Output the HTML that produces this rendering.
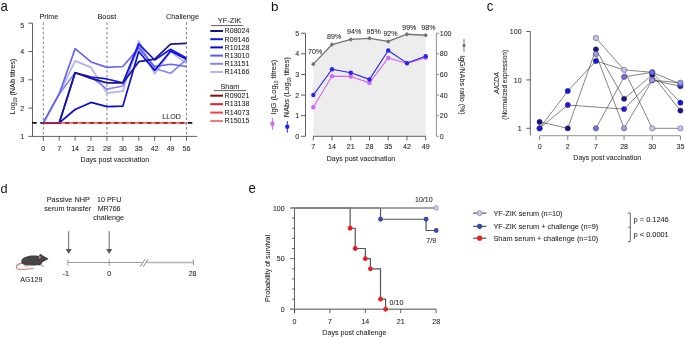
<!DOCTYPE html>
<html><head><meta charset="utf-8"><style>
html,body{margin:0;padding:0;background:#fff;}
svg{display:block;font-family:"Liberation Sans",sans-serif;will-change:transform;}
text{stroke:#333;stroke-width:0.06px;paint-order:stroke;}
</style></head><body>
<svg width="685" height="338" viewBox="0 0 685 338">
<rect width="685" height="338" fill="#fff"/>
<text transform="translate(0.50,10.80) scale(0.93,1)" font-size="14.2" fill="#111" style="stroke:none">a</text>
<line x1="32.50" y1="23.20" x2="32.50" y2="136.40" stroke="#3a3a3a" stroke-width="0.8" />
<line x1="32.10" y1="136.40" x2="197.30" y2="136.40" stroke="#3a3a3a" stroke-width="0.8" />
<line x1="28.40" y1="136.40" x2="32.50" y2="136.40" stroke="#3a3a3a" stroke-width="0.8" />
<text transform="translate(24.30,139.00) scale(0.93,1)" font-size="7.634" text-anchor="end" fill="#222" >1</text>
<line x1="28.40" y1="108.10" x2="32.50" y2="108.10" stroke="#3a3a3a" stroke-width="0.8" />
<text transform="translate(24.30,110.70) scale(0.93,1)" font-size="7.634" text-anchor="end" fill="#222" >2</text>
<line x1="28.40" y1="79.80" x2="32.50" y2="79.80" stroke="#3a3a3a" stroke-width="0.8" />
<text transform="translate(24.30,82.40) scale(0.93,1)" font-size="7.634" text-anchor="end" fill="#222" >3</text>
<line x1="28.40" y1="51.50" x2="32.50" y2="51.50" stroke="#3a3a3a" stroke-width="0.8" />
<text transform="translate(24.30,54.10) scale(0.93,1)" font-size="7.634" text-anchor="end" fill="#222" >4</text>
<line x1="28.40" y1="23.20" x2="32.50" y2="23.20" stroke="#3a3a3a" stroke-width="0.8" />
<text transform="translate(24.30,28.10) scale(0.93,1)" font-size="7.634" text-anchor="end" fill="#222" >5</text>
<line x1="43.30" y1="136.40" x2="43.30" y2="140.80" stroke="#3a3a3a" stroke-width="0.8" />
<text transform="translate(43.30,151.30) scale(0.93,1)" font-size="7.634" text-anchor="middle" fill="#222" >0</text>
<line x1="59.21" y1="136.40" x2="59.21" y2="140.80" stroke="#3a3a3a" stroke-width="0.8" />
<text transform="translate(59.21,151.30) scale(0.93,1)" font-size="7.634" text-anchor="middle" fill="#222" >7</text>
<line x1="75.12" y1="136.40" x2="75.12" y2="140.80" stroke="#3a3a3a" stroke-width="0.8" />
<text transform="translate(75.12,151.30) scale(0.93,1)" font-size="7.634" text-anchor="middle" fill="#222" >14</text>
<line x1="91.03" y1="136.40" x2="91.03" y2="140.80" stroke="#3a3a3a" stroke-width="0.8" />
<text transform="translate(91.03,151.30) scale(0.93,1)" font-size="7.634" text-anchor="middle" fill="#222" >21</text>
<line x1="106.94" y1="136.40" x2="106.94" y2="140.80" stroke="#3a3a3a" stroke-width="0.8" />
<text transform="translate(106.94,151.30) scale(0.93,1)" font-size="7.634" text-anchor="middle" fill="#222" >28</text>
<line x1="122.85" y1="136.40" x2="122.85" y2="140.80" stroke="#3a3a3a" stroke-width="0.8" />
<text transform="translate(122.85,151.30) scale(0.93,1)" font-size="7.634" text-anchor="middle" fill="#222" >30</text>
<line x1="138.76" y1="136.40" x2="138.76" y2="140.80" stroke="#3a3a3a" stroke-width="0.8" />
<text transform="translate(138.76,151.30) scale(0.93,1)" font-size="7.634" text-anchor="middle" fill="#222" >35</text>
<line x1="154.67" y1="136.40" x2="154.67" y2="140.80" stroke="#3a3a3a" stroke-width="0.8" />
<text transform="translate(154.67,151.30) scale(0.93,1)" font-size="7.634" text-anchor="middle" fill="#222" >42</text>
<line x1="170.58" y1="136.40" x2="170.58" y2="140.80" stroke="#3a3a3a" stroke-width="0.8" />
<text transform="translate(170.58,151.30) scale(0.93,1)" font-size="7.634" text-anchor="middle" fill="#222" >49</text>
<line x1="186.49" y1="136.40" x2="186.49" y2="140.80" stroke="#3a3a3a" stroke-width="0.8" />
<text transform="translate(186.49,151.30) scale(0.93,1)" font-size="7.634" text-anchor="middle" fill="#222" >56</text>
<text transform="translate(114.80,162.20) scale(0.93,1)" font-size="7.581" text-anchor="middle" fill="#222" >Days post vaccination</text>
<text transform="translate(15.3,114.4) rotate(-90) scale(0.93,1)" font-size="7.849" fill="#222">Log<tspan font-size="4.5" dy="1.8">10</tspan><tspan dy="-1.8"> (NAb titres)</tspan></text>
<line x1="43.30" y1="22.34" x2="43.30" y2="136.40" stroke="#555" stroke-width="0.75" stroke-dasharray="2.6,2.16"/>
<line x1="106.94" y1="22.34" x2="106.94" y2="136.40" stroke="#555" stroke-width="0.75" stroke-dasharray="2.6,2.16"/>
<line x1="186.49" y1="22.34" x2="186.49" y2="136.40" stroke="#555" stroke-width="0.75" stroke-dasharray="2.6,2.16"/>
<text transform="translate(48.90,19.00) scale(0.93,1)" font-size="7.688" text-anchor="middle" fill="#222" >Prime</text>
<text transform="translate(106.85,19.00) scale(0.93,1)" font-size="7.957" text-anchor="middle" fill="#222" >Boost</text>
<text transform="translate(182.50,19.00) scale(0.93,1)" font-size="7.903" text-anchor="middle" fill="#222" >Challenge</text>
<line x1="32.10" y1="122.90" x2="193.00" y2="122.90" stroke="#111" stroke-width="1.7" stroke-dasharray="4.6,3.59"/>
<polyline points="43.30,122.90 59.21,93.95 75.12,60.84 91.03,67.35 106.94,93.10 122.85,91.12 138.76,40.75 154.67,73.86 170.58,51.50 186.49,63.39" stroke="#b0b2f7" stroke-width="1.7" fill="none" stroke-linejoin="round" />
<polyline points="43.30,122.90 59.21,93.95 75.12,72.72 91.03,76.97 106.94,89.14 122.85,86.03 138.76,45.84 154.67,68.48 170.58,73.29 186.49,59.42" stroke="#8385f2" stroke-width="1.7" fill="none" stroke-linejoin="round" />
<polyline points="43.30,122.90 59.21,93.95 75.12,48.67 91.03,61.97 106.94,67.35 122.85,66.50 138.76,48.10 154.67,66.50 170.58,64.24 186.49,66.50" stroke="#6565f3" stroke-width="1.7" fill="none" stroke-linejoin="round" />
<polyline points="43.30,122.90 59.21,122.90 75.12,109.52 91.03,102.44 106.94,106.69 122.85,106.12 138.76,51.50 154.67,70.46 170.58,50.93 186.49,59.14" stroke="#0a0ad8" stroke-width="1.7" fill="none" stroke-linejoin="round" />
<polyline points="43.30,122.90 59.21,122.90 75.12,72.72 91.03,76.97 106.94,78.95 122.85,82.91 138.76,43.86 154.67,59.99 170.58,49.24 186.49,58.01" stroke="#1515ee" stroke-width="1.7" fill="none" stroke-linejoin="round" />
<polyline points="43.30,122.90 59.21,122.90 75.12,72.72 91.03,78.39 106.94,82.91 122.85,82.91 138.76,61.69 154.67,59.14 170.58,44.14 186.49,43.29" stroke="#161690" stroke-width="1.7" fill="none" stroke-linejoin="round" />
<polyline points="43.30,122.90 186.49,122.90" stroke="#ff2a2a" stroke-width="1.6" fill="none" stroke-linejoin="round" opacity="0.72"/>
<text transform="translate(171.60,119.20) scale(0.93,1)" font-size="7.634" text-anchor="middle" fill="#222" >LLOD</text>
<text transform="translate(229.50,23.00) scale(0.93,1)" font-size="7.957" text-anchor="middle" fill="#222" >YF-ZIK</text>
<line x1="211.00" y1="25.60" x2="243.50" y2="25.60" stroke="#333" stroke-width="0.8" />
<line x1="210.30" y1="31.00" x2="223.00" y2="31.00" stroke="#161690" stroke-width="2.0" />
<text transform="translate(224.60,33.30) scale(0.93,1)" font-size="7.634" text-anchor="start" fill="#222" >R08024</text>
<line x1="210.30" y1="39.20" x2="223.00" y2="39.20" stroke="#1515ee" stroke-width="2.0" />
<text transform="translate(224.60,41.50) scale(0.93,1)" font-size="7.634" text-anchor="start" fill="#222" >R09146</text>
<line x1="210.30" y1="47.40" x2="223.00" y2="47.40" stroke="#0a0ad8" stroke-width="2.0" />
<text transform="translate(224.60,49.70) scale(0.93,1)" font-size="7.634" text-anchor="start" fill="#222" >R10128</text>
<line x1="210.30" y1="55.60" x2="223.00" y2="55.60" stroke="#5a5af2" stroke-width="2.0" />
<text transform="translate(224.60,57.90) scale(0.93,1)" font-size="7.634" text-anchor="start" fill="#222" >R13010</text>
<line x1="210.30" y1="63.80" x2="223.00" y2="63.80" stroke="#8385f2" stroke-width="2.0" />
<text transform="translate(224.60,66.10) scale(0.93,1)" font-size="7.634" text-anchor="start" fill="#222" >R13151</text>
<line x1="210.30" y1="72.00" x2="223.00" y2="72.00" stroke="#b5b7f8" stroke-width="2.0" />
<text transform="translate(224.60,74.30) scale(0.93,1)" font-size="7.634" text-anchor="start" fill="#222" >R14166</text>
<text transform="translate(229.90,89.00) scale(0.93,1)" font-size="7.849" text-anchor="middle" fill="#222" >Sham</text>
<line x1="213.80" y1="90.60" x2="246.20" y2="90.60" stroke="#333" stroke-width="0.8" />
<line x1="210.30" y1="95.70" x2="223.00" y2="95.70" stroke="#8a0b0b" stroke-width="2.0" />
<text transform="translate(224.60,98.00) scale(0.93,1)" font-size="7.634" text-anchor="start" fill="#222" >R09021</text>
<line x1="210.30" y1="104.15" x2="223.00" y2="104.15" stroke="#ee1c1c" stroke-width="2.0" />
<text transform="translate(224.60,106.45) scale(0.93,1)" font-size="7.634" text-anchor="start" fill="#222" >R13138</text>
<line x1="210.30" y1="112.60" x2="223.00" y2="112.60" stroke="#f04040" stroke-width="2.0" />
<text transform="translate(224.60,114.90) scale(0.93,1)" font-size="7.634" text-anchor="start" fill="#222" >R14073</text>
<line x1="210.30" y1="121.05" x2="223.00" y2="121.05" stroke="#f07878" stroke-width="2.0" />
<text transform="translate(224.60,123.35) scale(0.93,1)" font-size="7.634" text-anchor="start" fill="#222" >R15015</text>
<text transform="translate(270.90,10.80) scale(0.98,1)" font-size="13.6" fill="#111" style="stroke:none">b</text>
<polygon points="313.30,64.13 332.03,44.54 350.76,39.39 369.49,38.36 388.22,41.45 406.95,34.23 425.68,35.26 425.68,136.30 313.30,136.30" fill="#ecedec"/>
<polyline points="313.30,64.13 332.03,44.54 350.76,39.39 369.49,38.36 388.22,41.45 406.95,34.23 425.68,35.26" stroke="#737373" stroke-width="1.3" fill="none" stroke-linejoin="round" />
<rect x="311.70" y="62.53" width="3.2" height="3.2" fill="#707070" transform="rotate(45 313.30 64.13)"/>
<rect x="330.43" y="42.94" width="3.2" height="3.2" fill="#707070" transform="rotate(45 332.03 44.54)"/>
<rect x="349.16" y="37.79" width="3.2" height="3.2" fill="#707070" transform="rotate(45 350.76 39.39)"/>
<rect x="367.89" y="36.76" width="3.2" height="3.2" fill="#707070" transform="rotate(45 369.49 38.36)"/>
<rect x="386.62" y="39.85" width="3.2" height="3.2" fill="#707070" transform="rotate(45 388.22 41.45)"/>
<rect x="405.35" y="32.63" width="3.2" height="3.2" fill="#707070" transform="rotate(45 406.95 34.23)"/>
<rect x="424.08" y="33.66" width="3.2" height="3.2" fill="#707070" transform="rotate(45 425.68 35.26)"/>
<text transform="translate(315.10,54.40) scale(0.93,1)" font-size="7.634" text-anchor="middle" fill="#222" >70%</text>
<text transform="translate(334.10,38.80) scale(0.93,1)" font-size="7.634" text-anchor="middle" fill="#222" >89%</text>
<text transform="translate(354.10,34.00) scale(0.93,1)" font-size="7.634" text-anchor="middle" fill="#222" >94%</text>
<text transform="translate(373.70,33.50) scale(0.93,1)" font-size="7.634" text-anchor="middle" fill="#222" >95%</text>
<text transform="translate(390.50,35.80) scale(0.93,1)" font-size="7.634" text-anchor="middle" fill="#222" >92%</text>
<text transform="translate(409.30,30.00) scale(0.93,1)" font-size="7.634" text-anchor="middle" fill="#222" >99%</text>
<text transform="translate(428.40,30.00) scale(0.93,1)" font-size="7.634" text-anchor="middle" fill="#222" >98%</text>
<polyline points="313.30,107.23 332.03,76.09 350.76,76.50 369.49,82.89 388.22,57.94 406.95,63.51 425.68,57.74" stroke="#d166f0" stroke-width="1.1" fill="none" stroke-linejoin="round" />
<circle cx="313.30" cy="107.23" r="2.2" fill="#d166f0" stroke="none" stroke-width="0.5"/>
<circle cx="332.03" cy="76.09" r="2.2" fill="#d166f0" stroke="none" stroke-width="0.5"/>
<circle cx="350.76" cy="76.50" r="2.2" fill="#d166f0" stroke="none" stroke-width="0.5"/>
<circle cx="369.49" cy="82.89" r="2.2" fill="#d166f0" stroke="none" stroke-width="0.5"/>
<circle cx="388.22" cy="57.94" r="2.2" fill="#d166f0" stroke="none" stroke-width="0.5"/>
<circle cx="406.95" cy="63.51" r="2.2" fill="#d166f0" stroke="none" stroke-width="0.5"/>
<circle cx="425.68" cy="57.74" r="2.2" fill="#d166f0" stroke="none" stroke-width="0.5"/>
<polyline points="313.30,95.06 332.03,69.29 350.76,72.79 369.49,79.39 388.22,50.52 406.95,63.10 425.68,56.29" stroke="#2424ee" stroke-width="1.1" fill="none" stroke-linejoin="round" />
<circle cx="313.30" cy="95.06" r="2.2" fill="#2424ee" stroke="none" stroke-width="0.5"/>
<circle cx="332.03" cy="69.29" r="2.2" fill="#2424ee" stroke="none" stroke-width="0.5"/>
<circle cx="350.76" cy="72.79" r="2.2" fill="#2424ee" stroke="none" stroke-width="0.5"/>
<circle cx="369.49" cy="79.39" r="2.2" fill="#2424ee" stroke="none" stroke-width="0.5"/>
<circle cx="388.22" cy="50.52" r="2.2" fill="#2424ee" stroke="none" stroke-width="0.5"/>
<circle cx="406.95" cy="63.10" r="2.2" fill="#2424ee" stroke="none" stroke-width="0.5"/>
<circle cx="425.68" cy="56.29" r="2.2" fill="#2424ee" stroke="none" stroke-width="0.5"/>
<line x1="305.50" y1="33.20" x2="305.50" y2="136.30" stroke="#3a3a3a" stroke-width="0.8" />
<line x1="301.00" y1="136.30" x2="305.50" y2="136.30" stroke="#3a3a3a" stroke-width="0.8" />
<text transform="translate(299.30,138.90) scale(0.93,1)" font-size="7.634" text-anchor="end" fill="#222" >0</text>
<line x1="301.00" y1="115.68" x2="305.50" y2="115.68" stroke="#3a3a3a" stroke-width="0.8" />
<text transform="translate(299.30,118.28) scale(0.93,1)" font-size="7.634" text-anchor="end" fill="#222" >1</text>
<line x1="301.00" y1="95.06" x2="305.50" y2="95.06" stroke="#3a3a3a" stroke-width="0.8" />
<text transform="translate(299.30,97.66) scale(0.93,1)" font-size="7.634" text-anchor="end" fill="#222" >2</text>
<line x1="301.00" y1="74.44" x2="305.50" y2="74.44" stroke="#3a3a3a" stroke-width="0.8" />
<text transform="translate(299.30,77.04) scale(0.93,1)" font-size="7.634" text-anchor="end" fill="#222" >3</text>
<line x1="301.00" y1="53.82" x2="305.50" y2="53.82" stroke="#3a3a3a" stroke-width="0.8" />
<text transform="translate(299.30,56.42) scale(0.93,1)" font-size="7.634" text-anchor="end" fill="#222" >4</text>
<line x1="301.00" y1="33.20" x2="305.50" y2="33.20" stroke="#3a3a3a" stroke-width="0.8" />
<text transform="translate(299.30,35.80) scale(0.93,1)" font-size="7.634" text-anchor="end" fill="#222" >5</text>
<line x1="436.40" y1="33.20" x2="436.40" y2="136.30" stroke="#9a9a9a" stroke-width="1.1" />
<line x1="436.40" y1="136.30" x2="439.10" y2="136.30" stroke="#777" stroke-width="0.8" />
<text transform="translate(439.70,138.90) scale(0.93,1)" font-size="7.634" text-anchor="start" fill="#222" >0</text>
<line x1="436.40" y1="115.68" x2="439.10" y2="115.68" stroke="#777" stroke-width="0.8" />
<text transform="translate(439.70,118.28) scale(0.93,1)" font-size="7.634" text-anchor="start" fill="#222" >20</text>
<line x1="436.40" y1="95.06" x2="439.10" y2="95.06" stroke="#777" stroke-width="0.8" />
<text transform="translate(439.70,97.66) scale(0.93,1)" font-size="7.634" text-anchor="start" fill="#222" >40</text>
<line x1="436.40" y1="74.44" x2="439.10" y2="74.44" stroke="#777" stroke-width="0.8" />
<text transform="translate(439.70,77.04) scale(0.93,1)" font-size="7.634" text-anchor="start" fill="#222" >60</text>
<line x1="436.40" y1="53.82" x2="439.10" y2="53.82" stroke="#777" stroke-width="0.8" />
<text transform="translate(439.70,56.42) scale(0.93,1)" font-size="7.634" text-anchor="start" fill="#222" >80</text>
<line x1="436.40" y1="33.20" x2="439.10" y2="33.20" stroke="#777" stroke-width="0.8" />
<text transform="translate(439.70,35.80) scale(0.93,1)" font-size="7.634" text-anchor="start" fill="#222" >100</text>
<line x1="313.30" y1="136.30" x2="425.68" y2="136.30" stroke="#3a3a3a" stroke-width="0.8" />
<line x1="313.30" y1="136.30" x2="313.30" y2="140.40" stroke="#3a3a3a" stroke-width="0.8" />
<text transform="translate(313.30,149.20) scale(0.93,1)" font-size="7.634" text-anchor="middle" fill="#222" >7</text>
<line x1="332.03" y1="136.30" x2="332.03" y2="140.40" stroke="#3a3a3a" stroke-width="0.8" />
<text transform="translate(332.03,149.20) scale(0.93,1)" font-size="7.634" text-anchor="middle" fill="#222" >14</text>
<line x1="350.76" y1="136.30" x2="350.76" y2="140.40" stroke="#3a3a3a" stroke-width="0.8" />
<text transform="translate(350.76,149.20) scale(0.93,1)" font-size="7.634" text-anchor="middle" fill="#222" >21</text>
<line x1="369.49" y1="136.30" x2="369.49" y2="140.40" stroke="#3a3a3a" stroke-width="0.8" />
<text transform="translate(369.49,149.20) scale(0.93,1)" font-size="7.634" text-anchor="middle" fill="#222" >28</text>
<line x1="388.22" y1="136.30" x2="388.22" y2="140.40" stroke="#3a3a3a" stroke-width="0.8" />
<text transform="translate(388.22,149.20) scale(0.93,1)" font-size="7.634" text-anchor="middle" fill="#222" >35</text>
<line x1="406.95" y1="136.30" x2="406.95" y2="140.40" stroke="#3a3a3a" stroke-width="0.8" />
<text transform="translate(406.95,149.20) scale(0.93,1)" font-size="7.634" text-anchor="middle" fill="#222" >42</text>
<line x1="425.68" y1="136.30" x2="425.68" y2="140.40" stroke="#3a3a3a" stroke-width="0.8" />
<text transform="translate(425.68,149.20) scale(0.93,1)" font-size="7.634" text-anchor="middle" fill="#222" >49</text>
<text transform="translate(361.00,161.40) scale(0.93,1)" font-size="7.581" text-anchor="middle" fill="#222" >Days post vaccination</text>
<text transform="translate(275.9,114.7) rotate(-90) scale(0.93,1)" font-size="7.957" fill="#222" textLength="59.1" lengthAdjust="spacingAndGlyphs">IgG (Log<tspan font-size="4.5" dy="1.8">10</tspan><tspan dy="-1.8"> titres)</tspan></text>
<text transform="translate(289.3,117.2) rotate(-90) scale(0.93,1)" font-size="7.957" fill="#222">NAbs (Log<tspan font-size="4.5" dy="1.8">10</tspan><tspan dy="-1.8"> titres)</tspan></text>
<line x1="272.40" y1="117.90" x2="272.40" y2="129.90" stroke="#d166f0" stroke-width="1.0" />
<circle cx="272.40" cy="123.70" r="2.2" fill="#d166f0" stroke="none" stroke-width="0.5"/>
<line x1="287.30" y1="121.00" x2="287.30" y2="132.70" stroke="#2424ee" stroke-width="1.0" />
<circle cx="287.30" cy="126.70" r="2.2" fill="#2424ee" stroke="none" stroke-width="0.5"/>
<text transform="translate(460.2,55.2) rotate(90) scale(0.93,1)" font-size="7.634" fill="#222">IgG/NAbs ratio (%)</text>
<line x1="464.00" y1="38.90" x2="464.00" y2="52.20" stroke="#707070" stroke-width="0.9" />
<rect x="462.6" y="44.0" width="2.8" height="2.8" fill="#707070" transform="rotate(45 464 45.4)"/>
<text transform="translate(486.80,10.70) scale(0.93,1)" font-size="14.2" fill="#111" style="stroke:none">c</text>
<line x1="530.30" y1="31.50" x2="530.30" y2="135.40" stroke="#555" stroke-width="0.9" />
<line x1="526.30" y1="31.50" x2="530.30" y2="31.50" stroke="#3a3a3a" stroke-width="0.8" />
<text transform="translate(521.60,34.10) scale(0.93,1)" font-size="7.634" text-anchor="end" fill="#222" >100</text>
<line x1="526.30" y1="79.90" x2="530.30" y2="79.90" stroke="#3a3a3a" stroke-width="0.8" />
<text transform="translate(521.60,82.50) scale(0.93,1)" font-size="7.634" text-anchor="end" fill="#222" >10</text>
<line x1="526.30" y1="128.30" x2="530.30" y2="128.30" stroke="#3a3a3a" stroke-width="0.8" />
<text transform="translate(521.60,130.90) scale(0.93,1)" font-size="7.634" text-anchor="end" fill="#222" >1</text>
<line x1="539.60" y1="135.60" x2="680.40" y2="135.60" stroke="#a8a8a8" stroke-width="1.3" />
<line x1="539.60" y1="136.20" x2="539.60" y2="139.80" stroke="#555" stroke-width="0.8" />
<text transform="translate(539.60,148.90) scale(0.93,1)" font-size="7.634" text-anchor="middle" fill="#222" >0</text>
<line x1="567.76" y1="136.20" x2="567.76" y2="139.80" stroke="#555" stroke-width="0.8" />
<text transform="translate(567.76,148.90) scale(0.93,1)" font-size="7.634" text-anchor="middle" fill="#222" >2</text>
<line x1="595.92" y1="136.20" x2="595.92" y2="139.80" stroke="#555" stroke-width="0.8" />
<text transform="translate(595.92,148.90) scale(0.93,1)" font-size="7.634" text-anchor="middle" fill="#222" >7</text>
<line x1="624.08" y1="136.20" x2="624.08" y2="139.80" stroke="#555" stroke-width="0.8" />
<text transform="translate(624.08,148.90) scale(0.93,1)" font-size="7.634" text-anchor="middle" fill="#222" >28</text>
<line x1="652.24" y1="136.20" x2="652.24" y2="139.80" stroke="#555" stroke-width="0.8" />
<text transform="translate(652.24,148.90) scale(0.93,1)" font-size="7.634" text-anchor="middle" fill="#222" >30</text>
<line x1="680.40" y1="136.20" x2="680.40" y2="139.80" stroke="#555" stroke-width="0.8" />
<text transform="translate(680.40,148.90) scale(0.93,1)" font-size="7.634" text-anchor="middle" fill="#222" >35</text>
<text transform="translate(607.30,160.40) scale(0.93,1)" font-size="7.527" text-anchor="middle" fill="#222" >Days post vaccination</text>
<text transform="translate(498.8,82.9) rotate(-90) scale(0.93,1)" font-size="7.634" fill="#222" text-anchor="middle" font-style="italic">AICDA</text>
<text transform="translate(507.1,84.8) rotate(-90) scale(0.93,1)" font-size="6.935" fill="#222" text-anchor="middle">(Normalized expression)</text>
<polyline points="539.60,121.90 567.76,128.30 595.92,49.30 624.08,98.80 652.24,74.80 680.40,110.60" stroke="#333" stroke-width="0.6" fill="none" stroke-linejoin="round" />
<polyline points="539.60,128.30 567.76,91.00 595.92,61.00 624.08,69.90 652.24,72.30 680.40,102.70" stroke="#333" stroke-width="0.6" fill="none" stroke-linejoin="round" />
<polyline points="539.60,128.30 567.76,105.00 624.08,109.10 652.24,80.20 680.40,86.20" stroke="#333" stroke-width="0.6" fill="none" stroke-linejoin="round" />
<polyline points="595.92,128.30 624.08,76.90 652.24,72.30 680.40,84.00" stroke="#333" stroke-width="0.6" fill="none" stroke-linejoin="round" />
<polyline points="595.92,54.00 624.08,128.30 652.24,80.20 680.40,82.70" stroke="#333" stroke-width="0.6" fill="none" stroke-linejoin="round" />
<polyline points="595.92,38.00 624.08,69.90 652.24,128.30 680.40,128.30" stroke="#333" stroke-width="0.6" fill="none" stroke-linejoin="round" />
<circle cx="539.60" cy="121.90" r="2.65" fill="#14148a" stroke="#333" stroke-width="0.45"/>
<circle cx="567.76" cy="128.30" r="2.65" fill="#14148a" stroke="#333" stroke-width="0.45"/>
<circle cx="595.92" cy="49.30" r="2.65" fill="#14148a" stroke="#333" stroke-width="0.45"/>
<circle cx="624.08" cy="98.80" r="2.65" fill="#14148a" stroke="#333" stroke-width="0.45"/>
<circle cx="652.24" cy="74.80" r="2.65" fill="#14148a" stroke="#333" stroke-width="0.45"/>
<circle cx="680.40" cy="110.60" r="2.65" fill="#14148a" stroke="#333" stroke-width="0.45"/>
<circle cx="539.60" cy="128.30" r="2.65" fill="#1414ee" stroke="#333" stroke-width="0.45"/>
<circle cx="567.76" cy="91.00" r="2.65" fill="#1414ee" stroke="#333" stroke-width="0.45"/>
<circle cx="595.92" cy="61.00" r="2.65" fill="#1414ee" stroke="#333" stroke-width="0.45"/>
<circle cx="652.24" cy="72.30" r="2.65" fill="#1414ee" stroke="#333" stroke-width="0.45"/>
<circle cx="680.40" cy="102.70" r="2.65" fill="#1414ee" stroke="#333" stroke-width="0.45"/>
<circle cx="539.60" cy="128.30" r="2.65" fill="#1a1ae8" stroke="#333" stroke-width="0.45"/>
<circle cx="567.76" cy="105.00" r="2.65" fill="#1a1ae8" stroke="#333" stroke-width="0.45"/>
<circle cx="624.08" cy="109.10" r="2.65" fill="#1a1ae8" stroke="#333" stroke-width="0.45"/>
<circle cx="652.24" cy="80.20" r="2.65" fill="#1a1ae8" stroke="#333" stroke-width="0.45"/>
<circle cx="680.40" cy="86.20" r="2.65" fill="#1a1ae8" stroke="#333" stroke-width="0.45"/>
<circle cx="595.92" cy="128.30" r="2.65" fill="#6d6dee" stroke="#333" stroke-width="0.45"/>
<circle cx="624.08" cy="76.90" r="2.65" fill="#6d6dee" stroke="#333" stroke-width="0.45"/>
<circle cx="652.24" cy="72.30" r="2.65" fill="#6d6dee" stroke="#333" stroke-width="0.45"/>
<circle cx="680.40" cy="84.00" r="2.65" fill="#6d6dee" stroke="#333" stroke-width="0.45"/>
<circle cx="595.92" cy="54.00" r="2.65" fill="#9a9cf0" stroke="#333" stroke-width="0.45"/>
<circle cx="624.08" cy="128.30" r="2.65" fill="#9a9cf0" stroke="#333" stroke-width="0.45"/>
<circle cx="652.24" cy="80.20" r="2.65" fill="#9a9cf0" stroke="#333" stroke-width="0.45"/>
<circle cx="680.40" cy="82.70" r="2.65" fill="#9a9cf0" stroke="#333" stroke-width="0.45"/>
<circle cx="595.92" cy="38.00" r="2.65" fill="#c3c5f7" stroke="#333" stroke-width="0.45"/>
<circle cx="624.08" cy="69.90" r="2.65" fill="#c3c5f7" stroke="#333" stroke-width="0.45"/>
<circle cx="652.24" cy="128.30" r="2.65" fill="#c3c5f7" stroke="#333" stroke-width="0.45"/>
<circle cx="680.40" cy="128.30" r="2.65" fill="#c3c5f7" stroke="#333" stroke-width="0.45"/>
<text transform="translate(0.50,192.80) scale(0.95,1)" font-size="13.4" fill="#111" style="stroke:none">d</text>
<text transform="translate(68.35,202.10) scale(0.93,1)" font-size="7.903" text-anchor="middle" fill="#222" >Passive NHP</text>
<text transform="translate(67.70,210.90) scale(0.93,1)" font-size="7.849" text-anchor="middle" fill="#222" >serum transfer</text>
<text transform="translate(109.20,202.10) scale(0.93,1)" font-size="7.688" text-anchor="middle" fill="#222" >10 PFU</text>
<text transform="translate(109.10,210.90) scale(0.93,1)" font-size="7.634" text-anchor="middle" fill="#222" >MR766</text>
<text transform="translate(108.65,219.60) scale(0.93,1)" font-size="7.796" text-anchor="middle" fill="#222" >challenge</text>
<line x1="68.70" y1="231.20" x2="68.70" y2="249.50" stroke="#555" stroke-width="0.9" />
<polygon points="65.70,248.9 71.70,248.9 68.70,253.9" fill="#555"/>
<line x1="109.20" y1="231.20" x2="109.20" y2="249.50" stroke="#555" stroke-width="0.9" />
<polygon points="106.20,248.9 112.20,248.9 109.20,253.9" fill="#555"/>
<line x1="67.80" y1="262.50" x2="142.20" y2="262.50" stroke="#999" stroke-width="1.2" />
<line x1="146.40" y1="262.50" x2="193.40" y2="262.50" stroke="#b4b4b4" stroke-width="1.6" />
<line x1="67.80" y1="259.60" x2="67.80" y2="265.90" stroke="#888" stroke-width="0.8" />
<line x1="109.20" y1="259.60" x2="109.20" y2="265.90" stroke="#888" stroke-width="0.8" />
<line x1="193.40" y1="259.30" x2="193.40" y2="265.40" stroke="#777" stroke-width="0.8" />
<line x1="140.30" y1="266.70" x2="145.10" y2="259.30" stroke="#666" stroke-width="0.8" />
<line x1="143.20" y1="266.70" x2="148.00" y2="259.30" stroke="#666" stroke-width="0.8" />
<text transform="translate(65.70,275.90) scale(0.93,1)" font-size="7.634" text-anchor="middle" fill="#222" >-1</text>
<text transform="translate(109.20,275.90) scale(0.93,1)" font-size="7.634" text-anchor="middle" fill="#222" >0</text>
<text transform="translate(192.60,275.60) scale(0.93,1)" font-size="7.634" text-anchor="middle" fill="#222" >28</text>
<text transform="translate(31.30,282.30) scale(0.93,1)" font-size="7.634" text-anchor="middle" fill="#222" >AG129</text>
<path d="M21.6,263.4 C19,263.6 17.2,264.6 16.4,266.4 C15.9,268.4 17.6,269.4 20.5,269.5 C24,269.4 29,268.9 33.5,268.5" stroke="#c07a7a" stroke-width="1.1" fill="none"/>
<path d="M21.30,262.70 C21.15,262.17 21.13,261.23 21.30,260.60 C21.47,259.97 21.77,259.45 22.30,258.90 C22.83,258.35 23.60,257.75 24.50,257.30 C25.40,256.85 26.52,256.48 27.70,256.20 C28.88,255.92 30.20,255.70 31.60,255.60 C33.00,255.50 34.92,255.55 36.10,255.60 C37.28,255.65 38.13,256.03 38.70,255.90 C39.27,255.77 39.22,255.12 39.50,254.80 C39.78,254.48 40.08,254.10 40.40,254.00 C40.72,253.90 41.08,254.00 41.40,254.20 C41.72,254.40 41.77,254.83 42.30,255.20 C42.83,255.57 43.83,255.98 44.60,256.40 C45.37,256.82 46.28,257.30 46.90,257.70 C47.52,258.10 48.25,258.45 48.30,258.80 C48.35,259.15 47.72,259.48 47.20,259.80 C46.68,260.12 45.85,260.38 45.20,260.70 C44.55,261.02 43.85,261.32 43.30,261.70 C42.75,262.08 42.30,262.47 41.90,263.00 C41.50,263.53 41.75,264.53 40.90,264.90 C40.05,265.27 38.25,265.12 36.80,265.20 C35.35,265.28 33.83,265.40 32.20,265.40 C30.57,265.40 28.32,265.32 27.00,265.20 C25.68,265.08 25.10,264.93 24.30,264.70 C23.50,264.47 22.70,264.13 22.20,263.80 C21.70,263.47 21.45,263.23 21.30,262.70 Z" fill="#474444"/>
<ellipse cx="39.8" cy="257.3" rx="0.9" ry="1.4" fill="#c89090"/>
<path d="M40.8,264.3 L41.2,265.9 L44.2,266.3" stroke="#c08585" stroke-width="0.9" fill="none"/>
<path d="M23.8,264.4 L24.6,265.8 L28.2,266.2" stroke="#c08585" stroke-width="0.9" fill="none"/>
<text transform="translate(248.60,192.80) scale(0.93,1)" font-size="14.2" fill="#111" style="stroke:none">e</text>
<line x1="294.50" y1="208.00" x2="294.50" y2="313.10" stroke="#3a3a3a" stroke-width="0.8" />
<line x1="290.40" y1="309.30" x2="294.50" y2="309.30" stroke="#3a3a3a" stroke-width="0.8" />
<text transform="translate(284.70,311.90) scale(0.93,1)" font-size="7.581" text-anchor="end" fill="#222" >0</text>
<line x1="292.10" y1="299.17" x2="294.50" y2="299.17" stroke="#3a3a3a" stroke-width="0.8" />
<line x1="292.10" y1="289.04" x2="294.50" y2="289.04" stroke="#3a3a3a" stroke-width="0.8" />
<line x1="292.10" y1="278.91" x2="294.50" y2="278.91" stroke="#3a3a3a" stroke-width="0.8" />
<line x1="292.10" y1="268.78" x2="294.50" y2="268.78" stroke="#3a3a3a" stroke-width="0.8" />
<line x1="290.40" y1="258.65" x2="294.50" y2="258.65" stroke="#3a3a3a" stroke-width="0.8" />
<text transform="translate(284.70,261.25) scale(0.93,1)" font-size="7.581" text-anchor="end" fill="#222" >50</text>
<line x1="292.10" y1="248.52" x2="294.50" y2="248.52" stroke="#3a3a3a" stroke-width="0.8" />
<line x1="292.10" y1="238.39" x2="294.50" y2="238.39" stroke="#3a3a3a" stroke-width="0.8" />
<line x1="292.10" y1="228.26" x2="294.50" y2="228.26" stroke="#3a3a3a" stroke-width="0.8" />
<line x1="292.10" y1="218.13" x2="294.50" y2="218.13" stroke="#3a3a3a" stroke-width="0.8" />
<line x1="290.40" y1="208.00" x2="294.50" y2="208.00" stroke="#3a3a3a" stroke-width="0.8" />
<text transform="translate(284.70,210.60) scale(0.93,1)" font-size="7.581" text-anchor="end" fill="#222" >100</text>
<line x1="290.20" y1="309.30" x2="436.18" y2="309.30" stroke="#888" stroke-width="1.5" />
<line x1="294.50" y1="309.30" x2="294.50" y2="313.10" stroke="#3a3a3a" stroke-width="0.8" />
<text transform="translate(294.50,323.90) scale(0.93,1)" font-size="7.634" text-anchor="middle" fill="#222" >0</text>
<line x1="329.92" y1="309.30" x2="329.92" y2="313.10" stroke="#3a3a3a" stroke-width="0.8" />
<text transform="translate(329.92,323.90) scale(0.93,1)" font-size="7.634" text-anchor="middle" fill="#222" >7</text>
<line x1="365.34" y1="309.30" x2="365.34" y2="313.10" stroke="#3a3a3a" stroke-width="0.8" />
<text transform="translate(365.34,323.90) scale(0.93,1)" font-size="7.634" text-anchor="middle" fill="#222" >14</text>
<line x1="400.76" y1="309.30" x2="400.76" y2="313.10" stroke="#3a3a3a" stroke-width="0.8" />
<text transform="translate(400.76,323.90) scale(0.93,1)" font-size="7.634" text-anchor="middle" fill="#222" >21</text>
<line x1="436.18" y1="309.30" x2="436.18" y2="313.10" stroke="#3a3a3a" stroke-width="0.8" />
<text transform="translate(436.18,323.90) scale(0.93,1)" font-size="7.634" text-anchor="middle" fill="#222" >28</text>
<text transform="translate(354.40,335.40) scale(0.93,1)" font-size="7.688" text-anchor="middle" fill="#222" >Days post challenge</text>
<text transform="translate(270.0,268.4) rotate(-90) scale(0.93,1)" font-size="7.634" fill="#222" text-anchor="middle">Probability  of survival</text>
<polyline points="294.50,208.00 350.16,208.00 350.16,228.26 355.22,228.26 355.22,248.52 365.34,248.52 365.34,258.65 370.40,258.65 370.40,268.78 380.52,268.78 380.52,299.17 385.58,299.17 385.58,309.30" stroke="#555" stroke-width="1.2" fill="none" stroke-linejoin="round" stroke-linejoin="miter"/>
<polyline points="294.50,208.00 380.52,208.00 380.52,219.24 426.06,219.24 426.06,230.49 436.18,230.49" stroke="#555" stroke-width="1.2" fill="none" stroke-linejoin="round" stroke-linejoin="miter"/>
<line x1="290.40" y1="208.00" x2="436.18" y2="208.00" stroke="#888" stroke-width="1.5" />
<circle cx="350.16" cy="228.26" r="2.4" fill="#ee1c1c" stroke="none" stroke-width="0.5"/>
<circle cx="355.22" cy="248.52" r="2.4" fill="#ee1c1c" stroke="none" stroke-width="0.5"/>
<circle cx="365.34" cy="258.65" r="2.4" fill="#ee1c1c" stroke="none" stroke-width="0.5"/>
<circle cx="370.40" cy="268.78" r="2.4" fill="#ee1c1c" stroke="none" stroke-width="0.5"/>
<circle cx="380.52" cy="299.17" r="2.4" fill="#ee1c1c" stroke="none" stroke-width="0.5"/>
<circle cx="385.58" cy="309.30" r="2.4" fill="#ee1c1c" stroke="none" stroke-width="0.5"/>
<circle cx="380.52" cy="219.24" r="2.4" fill="#3a4aa8" stroke="none" stroke-width="0.5"/>
<circle cx="426.06" cy="219.24" r="2.4" fill="#3a4aa8" stroke="none" stroke-width="0.5"/>
<circle cx="436.18" cy="230.49" r="2.4" fill="#3a4aa8" stroke="none" stroke-width="0.5"/>
<circle cx="436.18" cy="208.00" r="2.4" fill="#c3c5f7" stroke="#777" stroke-width="0.5"/>
<text transform="translate(423.80,202.00) scale(0.93,1)" font-size="7.634" text-anchor="middle" fill="#222" >10/10</text>
<text transform="translate(431.20,243.40) scale(0.93,1)" font-size="7.634" text-anchor="middle" fill="#222" >7/9</text>
<text transform="translate(389.60,305.30) scale(0.93,1)" font-size="7.634" text-anchor="start" fill="#222" >0/10</text>
<line x1="473.10" y1="213.10" x2="486.30" y2="213.10" stroke="#333" stroke-width="1.0" />
<circle cx="479.60" cy="213.10" r="2.6" fill="#c3c5f7" stroke="#777" stroke-width="0.5"/>
<text transform="translate(493.40,215.70) scale(0.93,1)" font-size="7.903" text-anchor="start" fill="#222" >YF-ZIK serum (n=10)</text>
<line x1="473.10" y1="226.30" x2="486.30" y2="226.30" stroke="#333" stroke-width="1.0" />
<circle cx="479.60" cy="226.30" r="2.6" fill="#3a4aa8" stroke="none" stroke-width="0.5"/>
<text transform="translate(493.40,228.90) scale(0.93,1)" font-size="7.903" text-anchor="start" fill="#222" >YF-ZIK serum + challenge (n=9)</text>
<line x1="473.10" y1="238.20" x2="486.30" y2="238.20" stroke="#333" stroke-width="1.0" />
<circle cx="479.60" cy="238.20" r="2.6" fill="#ee1c1c" stroke="none" stroke-width="0.5"/>
<text transform="translate(493.40,240.80) scale(0.93,1)" font-size="7.903" text-anchor="start" fill="#222" >Sham serum + challenge (n=10)</text>
<path d="M627.9,213.1 H630.3 V241.6 H627.9 M630.3,227.4 H628.4" stroke="#444" stroke-width="0.8" fill="none"/>
<text transform="translate(633.60,222.30) scale(0.93,1)" font-size="7.957" text-anchor="start" fill="#222" >p = 0.1246</text>
<text transform="translate(633.60,236.70) scale(0.93,1)" font-size="7.957" text-anchor="start" fill="#222" >p &lt; 0.0001</text>
</svg></body></html>
